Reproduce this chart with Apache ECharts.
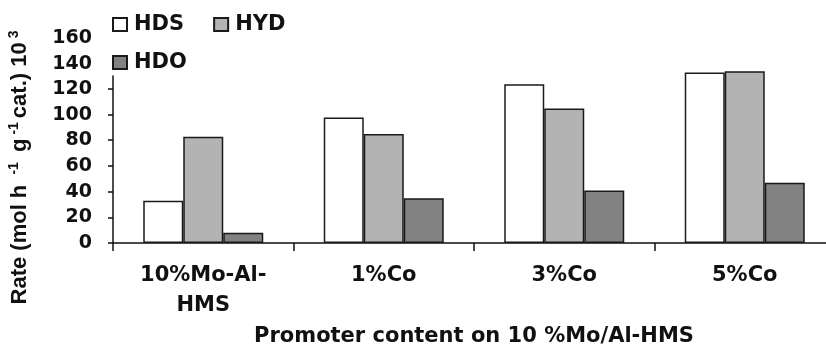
<!DOCTYPE html>
<html>
<head>
<meta charset="utf-8">
<script src="https://cdn.jsdelivr.net/npm/echarts@6/dist/echarts.min.js"></script>
<style>
    html, body { margin: 0; padding: 0; background: #fff; }
    #chart { width: 826px; height: 346px; }
</style>
</head>
<body>
<div id="chart"></div>
<script>
// 催化剂（类目）
var categories = ['10%Mo-Al-\nHMS', '1%Co', '3%Co', '5%Co'];
// 各反应速率
var hdsValues = [33, 98, 124, 133];
var hydValues = [83, 85, 105, 134];
var hdoValues = [8, 35, 41, 47];
// 纵轴刻度
var yTicks = [0, 20, 40, 60, 80, 100, 120];

var font = 'DejaVu Sans, Arial, sans-serif';
var nameFont = 'Liberation Sans, Arial, sans-serif';
var ink = '#111';

/**
 * 反应速率柱状图
 */
function rate_chart() {
    var myChart = echarts.init(document.getElementById('chart'), null, {renderer: 'canvas'});
    var barStyle = function (color) {
        return {color: color, borderColor: '#1a1a1a', borderWidth: 1.5};
    };
    var legendText = {fontFamily: font, fontSize: 21, fontWeight: 'bold', color: ink, padding: [0, 0, 0, 2]};
    var option = {
        backgroundColor: '#fff',
        animation: false,
        textStyle: {fontFamily: font},
        legend: [{
            data: ['HDS', 'HYD'],
            left: 107,
            top: 9,
            itemWidth: 14,
            itemHeight: 13,
            itemGap: 29,
            icon: 'rect',
            textStyle: legendText
        }, {
            data: ['HDO'],
            left: 107,
            top: 47,
            itemWidth: 14,
            itemHeight: 13,
            icon: 'rect',
            textStyle: legendText
        }],
        grid: [
            {left: 113, right: -9, top: 38, bottom: 103, outerBoundsMode: 'none'},
            {left: 113, right: -9, top: 76, bottom: 103, outerBoundsMode: 'none'}
        ],
        xAxis: [{
            type: 'category',
            gridIndex: 0,
            data: categories,
            name: 'Promoter content on 10 %Mo/Al-HMS',
            nameLocation: 'middle',
            nameGap: 82,
            nameTextStyle: {fontFamily: font, fontSize: 21, fontWeight: 'bold', color: ink},
            axisLine: {lineStyle: {color: '#111', width: 1.5}},
            axisTick: {show: true, length: 8, lineStyle: {color: '#111', width: 1.5}},
            axisLabel: {
                margin: 18,
                fontFamily: font,
                fontSize: 21,
                fontWeight: 'bold',
                color: ink,
                lineHeight: 30
            }
        }, {
            type: 'category',
            gridIndex: 1,
            data: categories,
            show: false
        }],
        yAxis: [{
            type: 'value',
            gridIndex: 0,
            min: 0,
            max: 160,
            interval: 20,
            name: '{b|Rate (mol h }{s|-1}{b| g}{s|-1}{b|cat.) 10}{s|3}',
            nameLocation: 'middle',
            nameRotate: 90,
            nameGap: 80,
            nameTextStyle: {
                padding: [0, 50, 0, 0],
                rich: {
                    b: {fontFamily: nameFont, fontSize: 22, fontWeight: 'bold', color: ink},
                    s: {fontFamily: nameFont, fontSize: 14, fontWeight: 'bold', color: ink, padding: [0, 4, 12, 4]}
                }
            },
            axisLine: {show: false},
            axisTick: {show: false},
            splitLine: {show: false},
            axisLabel: {
                margin: 21,
                fontFamily: font,
                fontSize: 19,
                fontWeight: 'bold',
                color: ink
            }
        }, {
            type: 'value',
            gridIndex: 1,
            min: 0,
            max: 130,
            axisLine: {show: true, lineStyle: {color: '#111', width: 1.5}},
            axisTick: {show: true, inside: false, length: 5, customValues: yTicks, lineStyle: {color: '#111', width: 1.5}},
            axisLabel: {show: false},
            splitLine: {show: false}
        }],
        series: [{
            name: 'HDS',
            type: 'bar',
            xAxisIndex: 0,
            yAxisIndex: 0,
            data: hdsValues,
            barWidth: 40,
            barGap: '0%',
            itemStyle: barStyle('#ffffff')
        }, {
            name: 'HYD',
            type: 'bar',
            xAxisIndex: 0,
            yAxisIndex: 0,
            data: hydValues,
            barWidth: 40,
            barGap: '0%',
            itemStyle: barStyle('#b3b3b3')
        }, {
            name: 'HDO',
            type: 'bar',
            xAxisIndex: 0,
            yAxisIndex: 0,
            data: hdoValues,
            barWidth: 40,
            barGap: '0%',
            itemStyle: barStyle('#828282')
        }]
    };
    myChart.setOption(option, true);
}

rate_chart();
</script>
</body>
</html>
